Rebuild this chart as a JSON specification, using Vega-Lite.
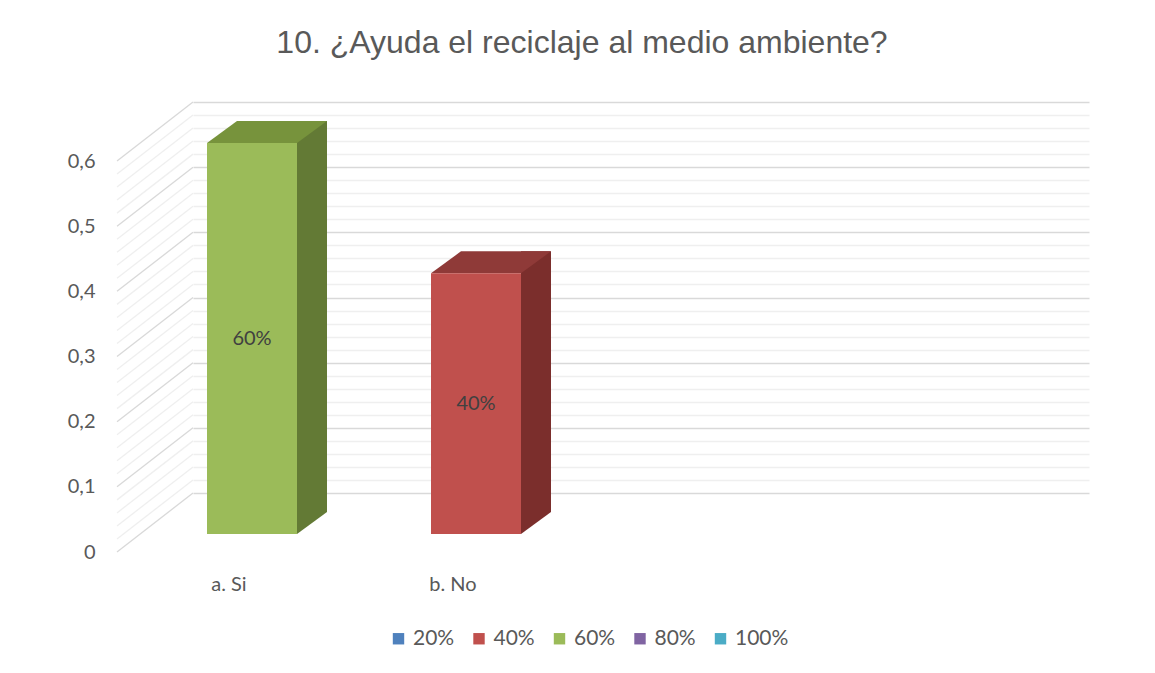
{
  "$schema": "https://vega.github.io/schema/vega-lite/v6.json",
  "width": 896,
  "height": 391,
  "autosize": {"type": "none"},
  "padding": {"left": 193, "top": 102, "right": 66, "bottom": 180},
  "background": "white",
  "title": {
    "text": "10. ¿Ayuda el reciclaje al medio ambiente?",
    "font": "Liberation Sans",
    "fontSize": 32,
    "fontWeight": "normal",
    "color": "#595959",
    "anchor": "middle",
    "baseline": "alphabetic",
    "dx": -59,
    "offset": 16
  },
  "config": {
    "view": {"stroke": null},
    "font": "Lato",
    "axisY": {
      "title": null,
      "domain": false,
      "ticks": false,
      "grid": true,
      "gridWidth": 1.3,
      "tickCount": 40,
      "labelOverlap": false,
      "labelFlush": false,
      "labelBound": false,
      "labelPadding": 98,
      "labelOffset": 59,
      "labelFont": "Lato",
      "labelFontSize": 20,
      "labelColor": "#595959"
    }
  },
  "datasets": {
    "answers": [
      {"answer": "a. Si", "value": 0.6, "series": "60%", "label": "60%"},
      {"answer": "b. No", "value": 0.4, "series": "40%", "label": "40%"}
    ],
    "grid": [
      {"v": 0}, {"v": 0.02}, {"v": 0.04}, {"v": 0.06}, {"v": 0.08},
      {"v": 0.1}, {"v": 0.12}, {"v": 0.14}, {"v": 0.16}, {"v": 0.18},
      {"v": 0.2}, {"v": 0.22}, {"v": 0.24}, {"v": 0.26}, {"v": 0.28},
      {"v": 0.3}, {"v": 0.32}, {"v": 0.34}, {"v": 0.36}, {"v": 0.38},
      {"v": 0.4}, {"v": 0.42}, {"v": 0.44}, {"v": 0.46}, {"v": 0.48},
      {"v": 0.5}, {"v": 0.52}, {"v": 0.54}, {"v": 0.56}, {"v": 0.58},
      {"v": 0.6}
    ]
  },
  "layer": [
    {
      "data": {"name": "grid"},
      "mark": {"type": "rule", "strokeWidth": 1.3, "x2Offset": -76, "y2Offset": 59},
      "encoding": {
        "y": {
          "field": "v",
          "type": "quantitative",
          "scale": {"domain": [0, 0.6], "nice": false, "zero": true},
          "axis": {
            "values": [0, 0.02, 0.04, 0.06, 0.08, 0.1, 0.12, 0.14, 0.16, 0.18, 0.2, 0.22, 0.24, 0.26, 0.28, 0.3, 0.32, 0.34, 0.36, 0.38, 0.4, 0.42, 0.44, 0.46, 0.48, 0.5, 0.52, 0.54, 0.56, 0.58, 0.6],
            "tickCount": 40,
            "gridColor": {
              "condition": {"test": "abs(datum.value * 10 - round(datum.value * 10)) < 0.001", "value": "#d9d9d9"},
              "value": "#efefef"
            },
            "labelExpr": "abs(datum.value * 10 - round(datum.value * 10)) < 0.001 ? replace(format(datum.value, '.1~f'), '.', ',') : ''"
          }
        },
        "y2": {"field": "v"},
        "x": {"value": 0},
        "x2": {"value": 0},
        "color": {
          "condition": {"test": "abs(datum.v * 10 - round(datum.v * 10)) < 0.001", "value": "#d9d9d9"},
          "value": "#efefef"
        }
      }
    },
    {
      "data": {"name": "answers"},
      "layer": [
        {
          "mark": {"type": "bar", "width": 30, "xOffset": 7, "yOffset": 19, "y2Offset": 19},
          "encoding": {
            "x": {
              "field": "answer",
              "type": "nominal",
              "scale": {"domain": ["a. Si", "b. No", "c", "d"], "paddingInner": 0, "paddingOuter": 0},
              "axis": {
                "title": null,
                "domain": false,
                "ticks": false,
                "labelAngle": 0,
                "labelExpr": "datum.label == 'c' || datum.label == 'd' ? '' : datum.label",
                "labelPadding": 81,
                "labelOffset": -76,
                "labelFont": "Lato",
                "labelFontSize": 20,
                "labelColor": "#595959"
              }
            },
            "y": {"field": "value", "type": "quantitative"},
            "fill": {
              "condition": {"test": "datum.answer === 'a. Si'", "value": "#637a35"},
              "value": "#7b2e2c"
            }
          }
        },
        {
          "mark": {"type": "point", "shape": "M -8 19 L 22 19 L -8 41 Z", "size": 4, "filled": true, "opacity": 1, "strokeWidth": 0},
          "encoding": {
            "x": {"field": "answer", "type": "nominal"},
            "y": {"datum": 0, "type": "quantitative"},
            "fill": {
              "condition": {"test": "datum.answer === 'a. Si'", "value": "#637a35"},
              "value": "#7b2e2c"
            }
          }
        },
        {
          "mark": {"type": "point", "shape": "M -98 41 L -8 41 L 22 19 L -68 19 Z", "size": 4, "filled": true, "opacity": 1, "strokeWidth": 0},
          "encoding": {
            "x": {"field": "answer", "type": "nominal"},
            "y": {"field": "value", "type": "quantitative"},
            "fill": {
              "condition": {"test": "datum.answer === 'a. Si'", "value": "#77933c"},
              "value": "#8f3a38"
            }
          }
        },
        {
          "mark": {"type": "bar", "width": 90, "xOffset": -53, "yOffset": 41, "y2Offset": 41},
          "encoding": {
            "x": {"field": "answer", "type": "nominal"},
            "y": {"field": "value", "type": "quantitative"},
            "color": {
              "field": "series",
              "type": "nominal",
              "scale": {
                "domain": ["20%", "40%", "60%", "80%", "100%"],
                "range": ["#4f81bd", "#c0504d", "#9bbb59", "#8064a2", "#4bacc6"]
              },
              "legend": {
                "title": null,
                "orient": "none",
                "direction": "horizontal",
                "legendX": 195,
                "legendY": 526,
                "symbolType": "square",
                "symbolSize": 130,
                "symbolStrokeWidth": 0,
                "labelFont": "Lato",
                "labelFontSize": 21,
                "labelColor": "#595959",
                "labelOffset": 4,
                "columnPadding": 13.5
              }
            }
          }
        },
        {
          "mark": {"type": "text", "xOffset": -53, "yOffset": 41, "font": "Lato", "fontSize": 20, "color": "#404040", "baseline": "middle"},
          "encoding": {
            "x": {"field": "answer", "type": "nominal"},
            "y": {"field": "value", "type": "quantitative", "stack": "zero", "bandPosition": 0.5},
            "text": {"field": "label"}
          }
        }
      ]
    }
  ]
}
